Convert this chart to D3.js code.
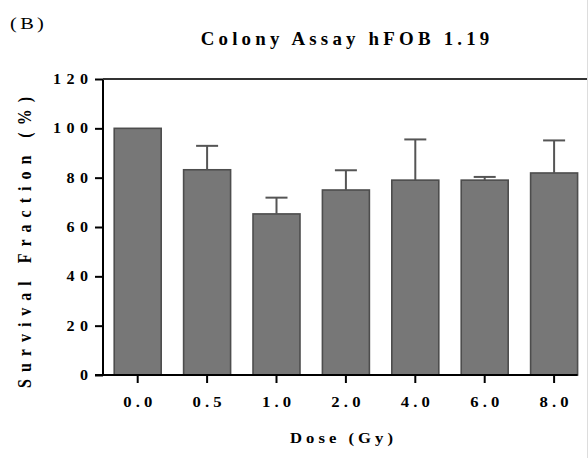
<!DOCTYPE html>
<html>
<head>
<meta charset="utf-8">
<script src="https://cdn.jsdelivr.net/npm/d3@7"></script>
<style>
  body { margin: 0; background: #fff; }
  svg text { font-family: "Liberation Serif", "DejaVu Serif", serif; fill: #000; }
</style>
</head>
<body>
<svg id="chart" width="588" height="458"></svg>
<script>
// data
var doses = ["0.0", "0.5", "1.0", "2.0", "4.0", "6.0", "8.0"];
var survival = [100, 83.2, 65.3, 75.0, 79.0, 79.0, 81.9];
var errors = [0, 9.7, 6.6, 8.0, 16.5, 1.3, 13.2];
var yTicks = [0, 20, 40, 60, 80, 100, 120];

var data = doses.map((d, i) => ({dose: d, value: survival[i], err: errors[i]}));

var svg = d3.select("#chart");

// the source figure's text is a bit wide and spaced out
var stretch = 1.15;

var x = d3.scaleBand()
  .domain(doses)
  .range([103, 588.8])
  .paddingInner(0.323)
  .paddingOuter(0.1615);

var y = d3.scaleLinear()
  .domain([0, 120])
  .range([375, 79]);

// panel label + title
svg.append("text")
  .attr("transform", "translate(10,29) scale(1.2,1)")
  .style("font-size", "17px")
  .style("letter-spacing", "2.8px")
  .text("(B)");

svg.append("text")
  .attr("transform", "translate(345,45) scale(1.05,1)")
  .attr("text-anchor", "middle")
  .attr("dx", 2)
  .style("font-size", "18px")
  .style("font-weight", "bold")
  .style("letter-spacing", "4px")
  .text("Colony Assay hFOB 1.19");

// bars
svg.append("g").selectAll("rect")
  .data(data)
  .join("rect")
  .attr("x", d => x(d.dose))
  .attr("y", d => y(d.value))
  .attr("width", x.bandwidth())
  .attr("height", d => y(0) - y(d.value))
  .attr("fill", "#777777")
  .attr("stroke", "#4d4d4d")
  .attr("stroke-width", 1.6);

// error bars (upper only)
var eb = svg.append("g").attr("stroke", "#555").attr("stroke-width", 2);
data.filter(d => d.err > 0).forEach(d => {
  var cx = x(d.dose) + x.bandwidth() / 2;
  eb.append("line")
    .attr("x1", cx).attr("x2", cx)
    .attr("y1", y(d.value)).attr("y2", y(d.value + d.err));
  eb.append("line")
    .attr("x1", cx - 11).attr("x2", cx + 11)
    .attr("y1", y(d.value + d.err)).attr("y2", y(d.value + d.err));
});

// y axis
var yAxis = svg.append("g")
  .attr("transform", "translate(103,0)")
  .call(d3.axisLeft(y).tickValues(yTicks).tickSize(8).tickSizeOuter(0));
yAxis.select(".domain").remove();
yAxis.selectAll("line").attr("stroke", "#000").attr("stroke-width", 2);
yAxis.selectAll("text")
  .attr("x", 0)
  .attr("transform", "translate(-9.6,0) scale(" + stretch + ",1)")
  .style("font-size", "14px")
  .style("font-weight", "bold")
  .style("letter-spacing", "4.7px");

// x axis
var xAxis = svg.append("g")
  .attr("transform", "translate(0,375)")
  .call(d3.axisBottom(x).tickSize(8).tickSizeOuter(0));
xAxis.select(".domain").remove();
xAxis.selectAll("line").attr("stroke", "#000").attr("stroke-width", 2);
xAxis.selectAll("text")
  .attr("y", 0).attr("dy", 0).attr("dx", 1.8)
  .attr("transform", "translate(0,31.5) scale(" + stretch + ",1)")
  .style("font-size", "14.5px")
  .style("font-weight", "bold")
  .style("letter-spacing", "3.6px");

// axis lines
var frame = svg.append("g").attr("stroke", "#000").attr("stroke-width", 2);
frame.append("line").attr("x1", 103).attr("x2", 103).attr("y1", y(120)).attr("y2", y(0));
frame.append("line").attr("x1", 95).attr("x2", x(doses[6]) + x.bandwidth()).attr("y1", y(0)).attr("y2", y(0));
frame.append("line").attr("x1", 103).attr("x2", 588).attr("y1", y(120)).attr("y2", y(120))
  .attr("stroke", "#333");
svg.append("line").attr("x1", 587.5).attr("x2", 587.5).attr("y1", 0).attr("y2", 458)
  .attr("stroke", "#ddd").attr("stroke-width", 1);

// axis titles
svg.append("text")
  .attr("transform", "translate(31,242.5) scale(1.2,1) rotate(-90)")
  .attr("text-anchor", "middle")
  .attr("dx", 3.5)
  .style("font-size", "16px")
  .style("font-weight", "bold")
  .style("letter-spacing", "7px")
  .text("Survival Fraction (%)");

svg.append("text")
  .attr("transform", "translate(341.5,443) scale(" + stretch + ",1)")
  .attr("text-anchor", "middle")
  .attr("dx", 1.75)
  .style("font-size", "14.5px")
  .style("font-weight", "bold")
  .style("letter-spacing", "3.5px")
  .text("Dose (Gy)");
</script>
</body>
</html>
